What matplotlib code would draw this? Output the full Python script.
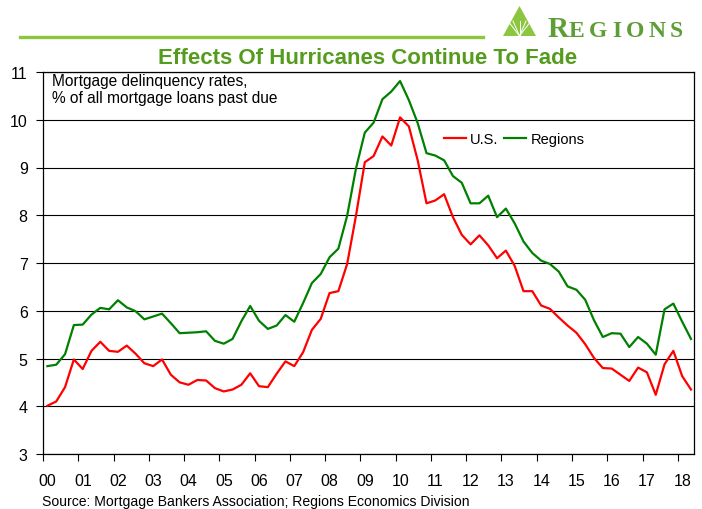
import matplotlib
matplotlib.use('Agg')
import matplotlib.pyplot as plt
import numpy as np
from matplotlib.patches import Polygon
from matplotlib.lines import Line2D

plt.rcParams['font.family'] = ['Liberation Sans', 'DejaVu Sans']

# ---- data (quarterly, 2000Q1 .. 2018Q2) ----
year_labels = ['00', '01', '02', '03', '04', '05', '06', '07', '08', '09',
               '10', '11', '12', '13', '14', '15', '16', '17', '18']
us = [4.01, 4.10, 4.40, 4.98, 4.78, 5.16, 5.35, 5.16, 5.14, 5.27,
      5.10, 4.90, 4.84, 4.98, 4.66, 4.50, 4.45, 4.55, 4.54, 4.38,
      4.31, 4.35, 4.45, 4.69, 4.42, 4.40, 4.68, 4.94, 4.84, 5.13,
      5.60, 5.83, 6.37, 6.41, 6.98, 7.99, 9.11, 9.24, 9.65, 9.46,
      10.05, 9.86, 9.15, 8.25, 8.31, 8.44, 7.96, 7.59, 7.39, 7.58,
      7.37, 7.10, 7.26, 6.94, 6.41, 6.41, 6.11, 6.04, 5.86, 5.69,
      5.54, 5.30, 5.01, 4.80, 4.79, 4.66, 4.53, 4.81, 4.71, 4.24,
      4.88, 5.16, 4.63, 4.35]
regions = [4.84, 4.87, 5.09, 5.70, 5.71, 5.92, 6.06, 6.03, 6.22, 6.07,
           5.99, 5.82, 5.88, 5.94, 5.74, 5.53, 5.54, 5.55, 5.57, 5.37,
           5.31, 5.41, 5.78, 6.10, 5.79, 5.62, 5.69, 5.91, 5.77, 6.16,
           6.58, 6.77, 7.12, 7.30, 7.99, 8.98, 9.73, 9.94, 10.43, 10.59,
           10.81, 10.41, 9.93, 9.30, 9.25, 9.15, 8.82, 8.68, 8.25, 8.25,
           8.41, 7.96, 8.14, 7.83, 7.45, 7.21, 7.05, 6.98, 6.82, 6.51,
           6.44, 6.23, 5.80, 5.45, 5.53, 5.52, 5.24, 5.45, 5.31, 5.08,
           6.03, 6.15, 5.77, 5.41]
series_names = ['U.S.', 'Regions']

W, H = 702, 510


def fx(x):
    return x / W


def fy(y):
    return 1 - y / H


fig = plt.figure(figsize=(W / 100, H / 100), dpi=100)
ax = fig.add_axes([fx(43), fy(455), (694 - 43) / W, (455 - 73) / H])

xq = np.arange(len(us)) * 0.25 + 0.125
ax.plot(xq, us, color='#ff0000', lw=1.6, label=series_names[0], zorder=3)
ax.plot(xq, regions, color='#008000', lw=1.6, label=series_names[1], zorder=3)

ax.set_xlim(0, 18.46)
ax.set_ylim(3, 11)
ax.set_yticks(range(3, 12))
n_years = len(year_labels)
ax.set_xticks(range(n_years))
ax.set_xticklabels([''] * n_years)
ax.set_xticks(np.arange(n_years) + 0.128, minor=True)
ax.set_xticklabels(year_labels, minor=True)
ax.yaxis.grid(True, color='black', lw=0.8)
ax.set_axisbelow(True)
for s in ax.spines.values():
    s.set_color('black')
    s.set_linewidth(0.9)
ax.tick_params(axis='x', which='major', direction='out', length=5, width=0.8)
ax.tick_params(axis='x', which='minor', length=0, pad=13.5, labelsize=11.5)
ax.tick_params(axis='y', direction='out', length=5, width=0.8, pad=6, labelsize=11.5)

leg = ax.legend(ncol=2, frameon=False, loc='center left',
                bbox_to_anchor=(fx(444), fy(140)), bbox_transform=fig.transFigure,
                fontsize=10.5, handlelength=1.5, handletextpad=0.3,
                columnspacing=0.4, borderpad=0, borderaxespad=0)

ax.text(fx(52), fy(74), 'Mortgage delinquency rates,\n% of all mortgage loans past due',
        transform=fig.transFigure, ha='left', va='top', fontsize=11.2,
        linespacing=1.15)

# title
fig.text(fx(367.5), fy(58), 'Effects Of Hurricanes Continue To Fade',
         ha='center', va='center', fontsize=16, fontweight='bold', color='#559c1e')

# source
fig.text(fx(42), fy(502), 'Source: Mortgage Bankers Association; Regions Economics Division',
         ha='left', va='center', fontsize=10.1)

# header rule
fig.add_artist(Line2D([fx(20), fx(483)], [fy(38), fy(38)], color='#8cc63f', lw=2.4,
                      transform=fig.transFigure))

# logo
tri = Polygon([(fx(503), fy(37)), (fx(536), fy(37)), (fx(519.5), fy(7))], closed=True,
              facecolor='#8cc63f', edgecolor='none', transform=fig.transFigure)
fig.add_artist(tri)
for tx in [508, 513, 519.5, 526, 531]:
    fig.add_artist(Line2D([fx(519.5), fx(tx)], [fy(37), fy(22)], color='white', lw=0.7,
                          transform=fig.transFigure))
logo_color = '#5e9e37'
fig.text(fx(548), fy(37), 'R', ha='left', va='baseline', fontsize=21, fontweight='bold',
         family='Liberation Serif', color=logo_color)
renderer = fig.canvas.get_renderer()
letters = 'EGIONS'
objs = [fig.text(0, fy(37), ch, ha='left', va='baseline', fontsize=17, fontweight='bold',
                 family='Liberation Serif', color=logo_color) for ch in letters]
widths = [o.get_window_extent(renderer).width for o in objs]
x0, x1 = 569, 683
gap = (x1 - x0 - sum(widths)) / (len(letters) - 1)
cur = x0
for o, w in zip(objs, widths):
    o.set_x(fx(cur))
    cur += w + gap

fig.savefig('out.png', dpi=100)
